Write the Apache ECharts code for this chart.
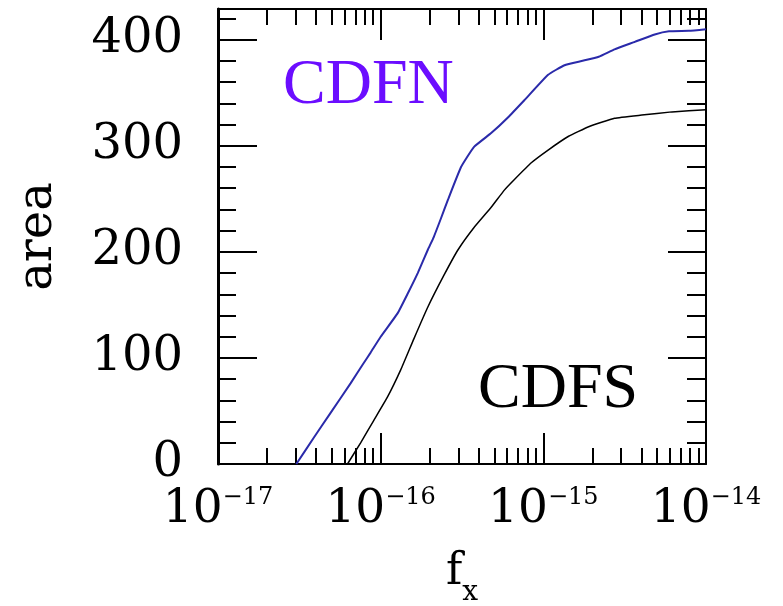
<!DOCTYPE html>
<html><head><meta charset="utf-8">
<script src="https://cdn.jsdelivr.net/npm/echarts@6/dist/echarts.min.js"></script>
<style>html,body{margin:0;padding:0;background:#fff}#c{width:783px;height:606px}</style>
</head><body><div id="c"></div>
<script>
// CDFN (blue) curve
const cdfnX = [3.03e-17, 3.85e-17, 4.91e-17, 6.53e-17, 7.85e-17, 8.67e-17, 1.00e-16, 1.27e-16, 1.47e-16, 1.69e-16, 1.95e-16, 2.12e-16, 2.34e-16, 2.59e-16, 3.12e-16, 3.75e-16, 4.78e-16, 6.08e-16, 7.64e-16, 1.07e-15, 1.35e-15, 1.72e-15, 2.19e-15, 2.74e-15, 3.65e-15, 4.84e-15, 5.92e-15, 7.85e-15, 1.0e-14];
const cdfnY = [0, 24, 48, 76, 95, 105, 120, 142, 161, 180, 202, 214, 231, 249, 280, 299, 312, 327, 343, 367, 376, 380, 384, 391, 398, 405, 408, 408.5, 410];
// CDFS (black) curve
const cdfsX = [6.25e-17, 7.53e-17, 9.06e-17, 1.10e-16, 1.33e-16, 1.60e-16, 1.95e-16, 2.45e-16, 2.99e-16, 3.75e-16, 4.78e-16, 5.74e-16, 6.62e-16, 8.43e-16, 1.07e-15, 1.43e-15, 1.90e-15, 2.74e-15, 4.03e-15, 6.17e-15, 1.0e-14];
const cdfsY = [0, 20, 41, 63, 89, 118, 148, 178, 202, 223, 242, 258, 268, 284, 296, 309, 318, 326, 329, 332, 334];
// axis ticks
const xMajorTicks = [1e-17, 1e-16, 1e-15, 1e-14];
const xMinorTicks = [2e-17,3e-17,4e-17,5e-17,6e-17,7e-17,8e-17,9e-17,
                     2e-16,3e-16,4e-16,5e-16,6e-16,7e-16,8e-16,9e-16,
                     2e-15,3e-15,4e-15,5e-15,6e-15,7e-15,8e-15,9e-15];
const yMajorTicks = [0, 100, 200, 300, 400];
const yMinorTicks = [20,40,60,80,120,140,160,180,220,240,260,280,320,340,360,380,420];
const yMax = 429;

const serif = 'DejaVu Serif';
const zip = (xs, ys) => xs.map((x, i) => [x, ys[i]]);

const baseX = {type: 'log', logBase: 10, min: 1e-17, max: 1e-14, gridIndex: 0, splitLine: {show: false}, minorTick: {show: false}};
const baseY = {type: 'value', min: 0, max: yMax, gridIndex: 0, splitLine: {show: false}, minorTick: {show: false}};

const chart = echarts.init(document.getElementById('c'), null, {renderer: 'canvas'});
chart.setOption({
  animation: false,
  backgroundColor: '#fff',
  grid: {left: 218, right: 77, top: 9, bottom: 142, containLabel: false, outerBoundsMode: 'none'},
  xAxis: [
    Object.assign({}, baseX, {
      position: 'bottom',
      axisLine: {show: true, onZero: false, lineStyle: {color: '#000', width: 2}},
      axisTick: {show: true, inside: true, length: 31, lineStyle: {color: '#000', width: 2}, customValues: xMajorTicks},
      axisLabel: {
        show: true, margin: 22, customValues: xMajorTicks,
        formatter: v => '{b|10}{s|\u2212' + (-Math.round(Math.log10(v))) + '}',
        rich: {
          b: {fontFamily: serif, fontSize: 47, color: '#000'},
          s: {fontFamily: serif, fontSize: 24, color: '#000', verticalAlign: 'top'}
        }
      },
      name: '{f|f}{x|x}', nameLocation: 'middle', nameGap: 87,
      nameTextStyle: {rich: {
        f: {fontFamily: serif, fontSize: 44, lineHeight: 44, color: '#000', verticalAlign: 'top'},
        x: {fontFamily: serif, fontSize: 28, lineHeight: 28, color: '#000', verticalAlign: 'top', padding: [28, 0, 0, 0]}
      }}
    }),
    Object.assign({}, baseX, {
      position: 'bottom',
      axisLine: {show: false, onZero: false},
      axisTick: {show: true, inside: true, length: 16, lineStyle: {color: '#000', width: 2}, customValues: xMinorTicks},
      axisLabel: {show: false}
    }),
    Object.assign({}, baseX, {
      position: 'top',
      axisLine: {show: true, onZero: false, lineStyle: {color: '#000', width: 2}},
      axisTick: {show: true, inside: true, length: 31, lineStyle: {color: '#000', width: 2}, customValues: xMajorTicks},
      axisLabel: {show: false}
    }),
    Object.assign({}, baseX, {
      position: 'top',
      axisLine: {show: false, onZero: false},
      axisTick: {show: true, inside: true, length: 16, lineStyle: {color: '#000', width: 2}, customValues: xMinorTicks},
      axisLabel: {show: false}
    })
  ],
  yAxis: [
    Object.assign({}, baseY, {
      position: 'left',
      axisLine: {show: true, onZero: false, lineStyle: {color: '#000', width: 3}},
      axisTick: {show: true, inside: true, length: 39, lineStyle: {color: '#000', width: 2}, customValues: yMajorTicks},
      axisLabel: {show: true, margin: 35, customValues: yMajorTicks, fontFamily: serif, fontSize: 48, color: '#000'},
      name: 'area', nameLocation: 'middle', nameRotate: 90, nameGap: 155,
      nameTextStyle: {fontFamily: serif, fontSize: 48, color: '#000'}
    }),
    Object.assign({}, baseY, {
      position: 'left',
      axisLine: {show: false, onZero: false},
      axisTick: {show: true, inside: true, length: 18, lineStyle: {color: '#000', width: 2}, customValues: yMinorTicks},
      axisLabel: {show: false}
    }),
    Object.assign({}, baseY, {
      position: 'right',
      axisLine: {show: true, onZero: false, lineStyle: {color: '#000', width: 2}},
      axisTick: {show: true, inside: true, length: 38, lineStyle: {color: '#000', width: 2}, customValues: yMajorTicks},
      axisLabel: {show: false}
    }),
    Object.assign({}, baseY, {
      position: 'right',
      axisLine: {show: false, onZero: false},
      axisTick: {show: true, inside: true, length: 19, lineStyle: {color: '#000', width: 2}, customValues: yMinorTicks},
      axisLabel: {show: false}
    })
  ],
  series: [
    {name: 'CDFN', type: 'line', xAxisIndex: 0, yAxisIndex: 0, data: zip(cdfnX, cdfnY), showSymbol: false, symbol: 'none',
     smooth: 0.12, lineStyle: {color: '#2a2aaa', width: 2}, z: 3},
    {name: 'CDFS', type: 'line', xAxisIndex: 0, yAxisIndex: 0, data: zip(cdfsX, cdfsY), showSymbol: false, symbol: 'none',
     smooth: 0.12, lineStyle: {color: '#000', width: 1.5}, z: 3}
  ],
  graphic: [
    {type: 'text', x: 283, y: 86, style: {text: 'CDFN', font: '64px "Liberation Serif"', fill: '#6b0dff', verticalAlign: 'middle', align: 'left'}},
    {type: 'text', x: 478, y: 390, style: {text: 'CDFS', font: '64px "Liberation Serif"', fill: '#000', verticalAlign: 'middle', align: 'left'}}
  ]
});
</script>
</body></html>
